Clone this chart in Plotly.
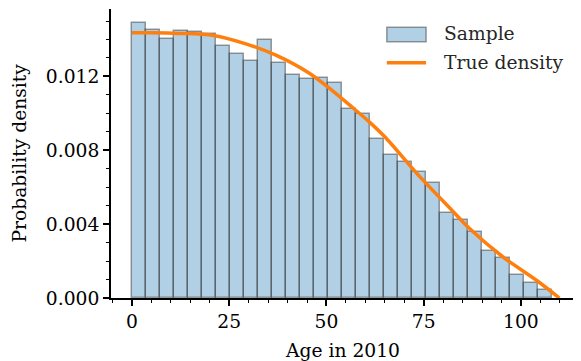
import numpy as np
import plotly.graph_objects as go

# Histogram (density) of sample: 30 bins from 0 to 108
bin_start = 0.0
bin_width = 3.6
sample_density = [0.01491, 0.01453, 0.01404, 0.01447, 0.01442, 0.01431, 0.01366, 0.01323,
                  0.01285, 0.01395, 0.01270, 0.01205, 0.01185, 0.01189, 0.01165, 0.01023,
                  0.00997, 0.00860, 0.00773, 0.00735, 0.00685, 0.00622, 0.00461, 0.00420,
                  0.00356, 0.00253, 0.00215, 0.00123, 0.00081, 0.00042]

# True density curve (read points)
curve_x = [0, 5, 12, 21, 29.5, 37, 45.7, 50.8, 56, 61, 65, 74, 82.5, 86.8, 95.4, 104, 109.9]
curve_y = [0.01436, 0.01436, 0.01433, 0.01422, 0.01375, 0.01315, 0.01216, 0.01135, 0.01044,
           0.00954, 0.00873, 0.00657, 0.00470, 0.00376, 0.00222, 0.00096, 0.0]

x_ticks = [0, 25, 50, 75, 100]
y_ticks = [0.000, 0.004, 0.008, 0.012]
legend_labels = ["Sample", "True density"]

centers = [bin_start + bin_width * (i + 0.5) for i in range(len(sample_density))]

FONT = "DejaVu Serif"
FS = 18.7
BAR_FILL = "rgba(31,119,180,0.35)"
BAR_EDGE = "rgba(60,60,60,0.5)"
ORANGE = "#ff7f0e"

fig = go.Figure()
fig.add_trace(go.Bar(
    x=centers, y=sample_density, width=bin_width, name=legend_labels[0], showlegend=False,
    marker=dict(color=BAR_FILL, line=dict(color=BAR_EDGE, width=1.5)),
))
fig.add_trace(go.Scatter(
    x=curve_x, y=curve_y, mode="lines", name=legend_labels[1], showlegend=False,
    line=dict(color=ORANGE, width=3.5, shape="spline", smoothing=0.8),
))

axis_common = dict(
    showline=True, linecolor="black", linewidth=1.8, mirror=False,
    ticks="outside", tickcolor="black", tickwidth=1.5, ticklen=6,
    showgrid=False, zeroline=False, automargin=False,
    tickfont=dict(family=FONT, size=FS, color="black"),
)

fig.update_xaxes(
    range=[-5.4, 113.4], tickvals=x_ticks,
    minor=dict(dtick=5, tick0=0, ticks="outside", ticklen=3.5, tickwidth=1.2, tickcolor="black"),
    **axis_common,
)
fig.update_yaxes(
    range=[0, 0.01565], tickvals=y_ticks, tickformat=".3f",
    minor=dict(dtick=0.001, tick0=0, ticks="outside", ticklen=3.5, tickwidth=1.2, tickcolor="black"),
    **axis_common,
)

# axis titles
fig.add_annotation(text="Age in 2010", xref="paper", yref="paper", x=0.5, y=-0.18,
                   xanchor="center", yanchor="middle", showarrow=False,
                   font=dict(family=FONT, size=FS, color="black"))
fig.add_annotation(text="Probability density", xref="paper", yref="paper", x=-0.199, y=0.5,
                   xanchor="center", yanchor="middle", textangle=-90, showarrow=False,
                   font=dict(family=FONT, size=FS, color="black"))

# legend (drawn to match the reference's patch/line handles)
fig.add_shape(type="rect", xref="paper", yref="paper", x0=0.597, x1=0.682, y0=0.887, y1=0.937,
              fillcolor=BAR_FILL, line=dict(color=BAR_EDGE, width=1.5))
fig.add_shape(type="line", xref="paper", yref="paper", x0=0.597, x1=0.682, y0=0.8142, y1=0.8142,
              line=dict(color=ORANGE, width=3.5))
fig.add_annotation(text=legend_labels[0], xref="paper", yref="paper", x=0.7158, y=0.9135,
                   xanchor="left", yanchor="middle", showarrow=False,
                   font=dict(family=FONT, size=FS, color="#262626"))
fig.add_annotation(text=legend_labels[1], xref="paper", yref="paper", x=0.7158, y=0.8166,
                   xanchor="left", yanchor="middle", showarrow=False,
                   font=dict(family=FONT, size=FS, color="#262626"))

fig.update_layout(
    width=581, height=361,
    margin=dict(l=111, r=8, t=9, b=63),
    plot_bgcolor="white", paper_bgcolor="white",
    bargap=0, showlegend=False,
    font=dict(family=FONT),
)

fig.write_html("out.html", config={"displayModeBar": False},
               post_script="document.body.style.margin='0';document.body.style.overflow='hidden';")
